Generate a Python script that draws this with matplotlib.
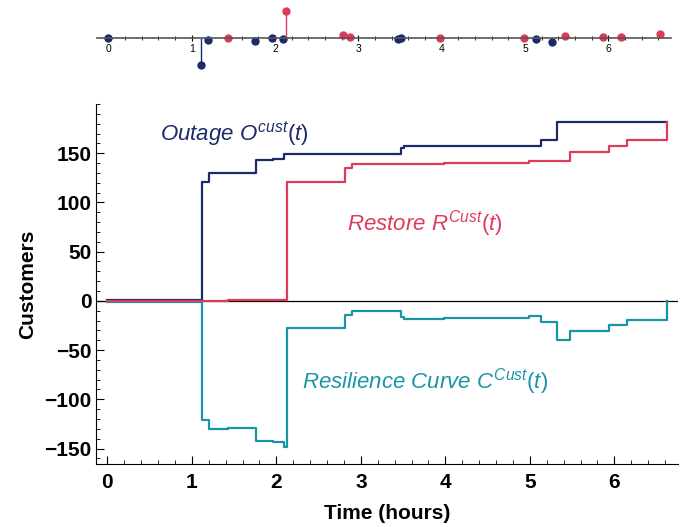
import numpy as np
import matplotlib
matplotlib.use("Agg")
from matplotlib import pyplot as plt
from matplotlib.ticker import MultipleLocator

plt.rcParams["font.family"] = ["Liberation Sans", "DejaVu Sans"]
plt.rcParams["mathtext.fontset"] = "custom"
plt.rcParams["mathtext.rm"] = "Liberation Sans"
plt.rcParams["mathtext.it"] = "Liberation Sans:italic"

# outage events (hours, customers)
out_t = [0, 1.116, 1.20, 1.755, 1.96, 2.09, 3.48, 3.51, 5.13, 5.32]
out_n = [1, 120, 9, 13, 1, 5, 6, 2, 6, 19]

# restore events (hours, customers)
rest_t = [1.43, 2.13, 2.81, 2.90, 3.98, 4.99, 5.48, 5.94, 6.15, 6.62]
rest_n = [1, 120, 14, 4, 1, 2, 9, 6, 6, 19]

t_end = 6.62

navy = "#1b2a6b"
red = "#de3a5c"
teal = "#1a95a6"

# cumulative curves on a common time grid
grid = np.array(sorted(set([0.0] + out_t + rest_t + [t_end])))
O = np.array([sum(n for t, n in zip(out_t, out_n) if t <= g) for g in grid])
R = np.array([sum(n for t, n in zip(rest_t, rest_n) if t <= g) for g in grid])
C = R - O

fig = plt.figure(figsize=(6.99, 5.27), dpi=100)

# top: event stems
ax0 = fig.add_axes([0.1383, 0.8634, 0.8216, 0.1271])
ml, sl, bl = ax0.stem(out_t, -np.array(out_n), basefmt=" ")
plt.setp(ml, color=navy, markersize=5)
plt.setp(sl, color=navy, linewidth=1)
ml, sl, bl = ax0.stem(rest_t, rest_n, basefmt=" ")
plt.setp(ml, color=red, markersize=5)
plt.setp(sl, color=red, linewidth=1)
ax0.set_xlim(-0.14, 6.75)
ax0.set_ylim(-151, 147)
for s in ["top", "right", "left"]:
    ax0.spines[s].set_visible(False)
ax0.spines["bottom"].set_position(("data", 0))
ax0.spines["bottom"].set_color("#555555")
ax0.spines["bottom"].set_linewidth(1.2)
ax0.set_yticks([])
ax0.xaxis.set_major_locator(MultipleLocator(1))
ax0.xaxis.set_minor_locator(MultipleLocator(0.2))
ax0.tick_params(axis="x", which="major", direction="inout", length=4, width=0.8,
                labelsize=7.5, pad=2)
ax0.tick_params(axis="x", which="minor", direction="inout", length=2.5, width=0.6)

# main: cumulative curves
ax = fig.add_axes([0.1373, 0.119, 0.8322, 0.6837])
ax.axhline(0, color="black", linewidth=0.9, zorder=1)
ax.step(grid, O, where="post", color=navy, linewidth=1.6, zorder=3)
ax.step(grid, R, where="post", color=red, linewidth=1.6, zorder=4)
ax.step(grid, C, where="post", color=teal, linewidth=1.6, zorder=3)

ax.text(0.62, 170, r"Outage $O^{cust}(t)$", color=navy, fontsize=16,
        fontstyle="italic", ha="left", va="center")
ax.text(2.84, 79, r"Restore $R^{Cust}(t)$", color=red, fontsize=16,
        fontstyle="italic", ha="left", va="center")
ax.text(2.30, -82, r"Resilience Curve $C^{Cust}(t)$", color=teal, fontsize=16,
        fontstyle="italic", ha="left", va="center")

ax.set_xlim(-0.135, 6.75)
ax.set_ylim(-166, 200)
ax.spines["top"].set_visible(False)
ax.spines["right"].set_visible(False)
ax.xaxis.set_major_locator(MultipleLocator(1))
ax.xaxis.set_minor_locator(MultipleLocator(0.2))
ax.yaxis.set_major_locator(MultipleLocator(50))
ax.yaxis.set_minor_locator(MultipleLocator(10))
ax.tick_params(which="major", direction="in", length=6, width=0.8, labelsize=15)
ax.tick_params(which="minor", direction="in", length=3, width=0.6)
ax.tick_params(axis="y", pad=3)
ax.tick_params(axis="x", pad=6)
ax.set_yticks([-150, -100, -50, 0, 50, 100, 150])
ax.set_yticklabels(["\u2212150", "\u2212100", "\u221250", "0", "50", "100", "150"],
                   fontweight="bold")
ax.set_xticks(range(0, 7))
ax.set_xticklabels([str(i) for i in range(0, 7)], fontweight="bold")
ax.set_xlabel("Time (hours)", fontsize=15, fontweight="bold", labelpad=9)
ax.set_ylabel("Customers", fontsize=15, fontweight="bold", labelpad=5)

fig.savefig("out.png", dpi=100)
